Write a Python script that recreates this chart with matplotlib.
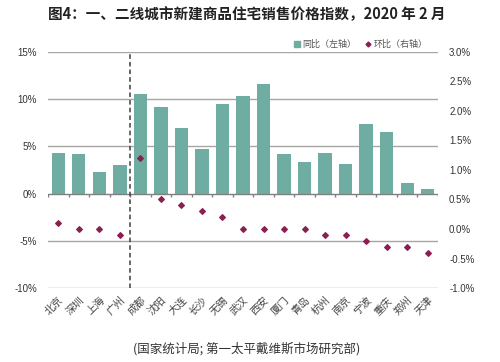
import matplotlib
matplotlib.use("Agg")
import matplotlib.pyplot as plt
import numpy as np
from matplotlib.lines import Line2D
from matplotlib.patches import Patch

plt.rcParams['font.family'] = ['Noto Sans CJK SC', 'DejaVu Sans']

cities = ["北京", "深圳", "上海", "广州", "成都", "沈阳", "大连", "长沙", "无锡", "武汉",
          "西安", "厦门", "青岛", "杭州", "南京", "宁波", "重庆", "郑州", "天津"]
yoy = [4.3, 4.2, 2.3, 3.0, 10.6, 9.2, 6.9, 4.7, 9.5, 10.3,
       11.6, 4.2, 3.3, 4.3, 3.1, 7.4, 6.5, 1.1, 0.5]
mom = [0.1, 0.0, 0.0, -0.1, 1.2, 0.5, 0.4, 0.3, 0.2, 0.0,
       0.0, 0.0, 0.0, -0.1, -0.1, -0.2, -0.3, -0.3, -0.4]
left_ticks = [-10, -5, 0, 5, 10, 15]
right_ticks = [-1.0, -0.5, 0.0, 0.5, 1.0, 1.5, 2.0, 2.5, 3.0]

bar_color = "#6fada3"
dot_color = "#8a1f52"
grid_color = "#a6a6a6"

fig = plt.figure(figsize=(5, 3.62), dpi=100)
ax = fig.add_axes([0.096, 0.2044, 0.78, 0.652])
x = np.arange(len(cities))

ax.set_ylim(-10, 15)
ax.set_xlim(-0.5, len(cities) - 0.5)
for t in left_ticks:
    if t != 0:
        ax.axhline(t, color=grid_color, lw=1, zorder=0)
ax.bar(x, yoy, width=0.65, color=bar_color, zorder=2)
ax.set_yticks(left_ticks)
ax.set_yticklabels([f"{t}%" for t in left_ticks], fontsize=7, color="#333333",
                   family="Liberation Sans")
ax.tick_params(axis='y', length=0, pad=8)
ax.set_xticks(x)
ax.set_xticklabels(cities, rotation=45, ha='right', va='top', fontsize=7.5,
                   color="#444444", rotation_mode='anchor')
ax.tick_params(axis='x', length=0, pad=5)
for s in ax.spines.values():
    s.set_visible(False)

# zero line with small ticks between categories
ax.axhline(0, color="#808080", lw=1, zorder=3)
ax.vlines(np.arange(-0.5, len(cities)), -0.35, 0, color="#808080", lw=1, zorder=3)

ax.axvline(3.5, color="#404040", lw=1.1, ls=(0, (3, 2)), zorder=3)

ax2 = ax.twinx()
ax2.set_ylim(-1.0, 3.0)
ax2.scatter(x, mom, marker='D', s=8, color=dot_color, zorder=4)
ax2.set_yticks(right_ticks)
ax2.set_yticklabels([f"{t:.1f}%" for t in right_ticks], fontsize=7, color="#333333",
                    family="Liberation Sans")
ax2.tick_params(axis='y', length=0, pad=8)
for s in ax2.spines.values():
    s.set_visible(False)

handles = [Patch(color=bar_color, label="同比（左轴）"),
           Line2D([], [], marker='D', ls='none', ms=2.5, color=dot_color, label="环比（右轴）")]
fig.legend(handles=handles, loc='center', bbox_to_anchor=(0.722, 0.877), ncol=2,
           frameon=False, fontsize=6.5, handlelength=0.6, handleheight=0.6,
           handletextpad=0.3, columnspacing=1.0, labelcolor="#555555")

fig.text(0.493, 0.962, "图4：一、二线城市新建商品住宅销售价格指数，2020 年 2 月",
         ha='center', va='center', fontsize=10.5, fontweight='bold', color="#222222")
fig.text(0.493, 0.036, "(国家统计局; 第一太平戴维斯市场研究部)", ha='center', va='center',
         fontsize=9, style='italic', color="#333333")

fig.savefig("out.png", dpi=100)
